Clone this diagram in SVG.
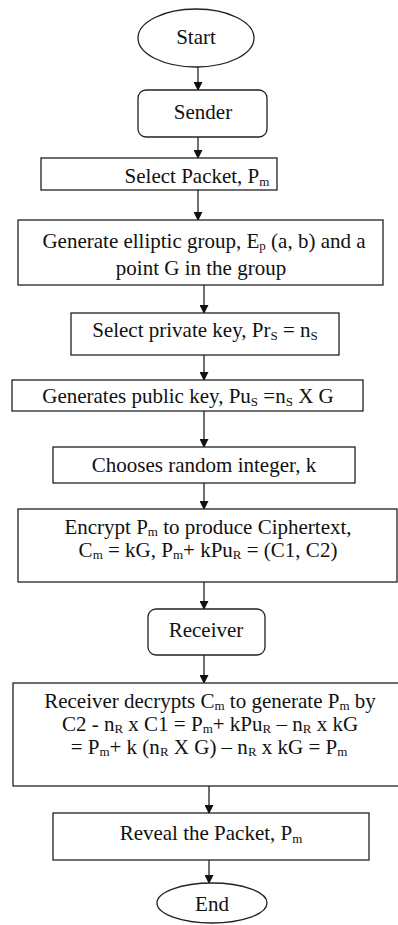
<svg xmlns="http://www.w3.org/2000/svg" width="398" height="925" viewBox="0 0 398 925">
<style>
.b{fill:#fff;stroke:#222;stroke-width:1.3}
.t{font-family:"Liberation Serif","Times New Roman",serif;font-size:21px;fill:#111;text-anchor:middle}
.s{font-size:13px}
.c{stroke:#222;stroke-width:1.3;fill:none;marker-end:url(#ah)}
</style>
<defs>
<marker id="ah" markerWidth="9" markerHeight="9" refX="8" refY="4.5" orient="auto" markerUnits="userSpaceOnUse">
<path d="M0,0 L9,4.5 L0,9 Z" fill="#111"/>
</marker>
</defs>
<rect width="398" height="925" fill="#fff"/>
<g id="connectors">
<line class="c" x1="198" y1="67" x2="198" y2="90"/>
<line class="c" x1="198" y1="137" x2="198" y2="158"/>
<line class="c" x1="198" y1="190" x2="198" y2="220"/>
<line class="c" x1="204" y1="285" x2="204" y2="313"/>
<line class="c" x1="204" y1="355" x2="204" y2="380"/>
<line class="c" x1="204" y1="411" x2="204" y2="447"/>
<line class="c" x1="204" y1="483" x2="204" y2="509"/>
<line class="c" x1="204" y1="582" x2="204" y2="609"/>
<line class="c" x1="204" y1="655" x2="204" y2="683"/>
<line class="c" x1="209" y1="786" x2="209" y2="813"/>
<line class="c" x1="209" y1="860" x2="209" y2="883"/>
</g>
<g id="start">
<ellipse class="b" cx="196" cy="38" rx="58" ry="29"/>
<text class="t" x="196" y="44">Start</text>
</g>
<g id="sender">
<rect class="b" x="138" y="90" width="129" height="47" rx="8"/>
<text class="t" x="203" y="119">Sender</text>
</g>
<g id="select-packet">
<rect class="b" x="41" y="158" width="236" height="32"/>
<text class="t" x="197" y="183">Select Packet, P<tspan class="s" dy="3">m</tspan></text>
</g>
<g id="generate-group">
<rect class="b" x="18" y="220" width="365" height="65"/>
<text class="t" x="204" y="248">Generate elliptic group, E<tspan class="s" dy="2">p</tspan><tspan dy="-2"> (a, b) and a</tspan></text>
<text class="t" x="201" y="275">point G in the group</text>
</g>
<g id="private-key">
<rect class="b" x="71" y="313" width="268" height="42"/>
<text class="t" x="205" y="337">Select private key, Pr<tspan class="s" dy="3">S</tspan><tspan dy="-3"> = n</tspan><tspan class="s" dy="3">S</tspan></text>
</g>
<g id="public-key">
<rect class="b" x="12" y="380" width="351" height="31"/>
<text class="t" x="188" y="403">Generates public key, Pu<tspan class="s" dy="3">S</tspan><tspan dy="-3"> =n</tspan><tspan class="s" dy="3">S</tspan><tspan dy="-3"> X G</tspan></text>
</g>
<g id="random-k">
<rect class="b" x="53" y="447" width="302" height="36"/>
<text class="t" x="204" y="472">Chooses random integer, k</text>
</g>
<g id="encrypt">
<rect class="b" x="18" y="509" width="379" height="73"/>
<text class="t" x="208" y="534">Encrypt P<tspan class="s" dy="2">m</tspan><tspan dy="-2"> to produce Ciphertext,</tspan></text>
<text class="t" x="208" y="557">C<tspan class="s" dy="2">m</tspan><tspan dy="-2"> = kG, P</tspan><tspan class="s" dy="2">m</tspan><tspan dy="-2">+ kPu</tspan><tspan class="s" dy="2">R</tspan><tspan dy="-2"> = (C1, C2)</tspan></text>
</g>
<g id="receiver">
<rect class="b" x="148" y="609" width="117" height="46" rx="8"/>
<text class="t" x="206" y="637">Receiver</text>
</g>
<g id="decrypt">
<rect class="b" x="13" y="683" width="390" height="103"/>
<text class="t" x="210" y="708">Receiver decrypts C<tspan class="s" dy="2">m</tspan><tspan dy="-2"> to generate P</tspan><tspan class="s" dy="2">m</tspan><tspan dy="-2"> by</tspan></text>
<text class="t" x="210" y="731">C2 - n<tspan class="s" dy="2">R</tspan><tspan dy="-2"> x C1 = P</tspan><tspan class="s" dy="2">m</tspan><tspan dy="-2">+ kPu</tspan><tspan class="s" dy="2">R</tspan><tspan dy="-2"> – n</tspan><tspan class="s" dy="2">R</tspan><tspan dy="-2"> x kG</tspan></text>
<text class="t" x="209" y="754">= P<tspan class="s" dy="2">m</tspan><tspan dy="-2">+ k (n</tspan><tspan class="s" dy="2">R</tspan><tspan dy="-2"> X G) – n</tspan><tspan class="s" dy="2">R</tspan><tspan dy="-2"> x kG = P</tspan><tspan class="s" dy="2">m</tspan></text>
</g>
<g id="reveal">
<rect class="b" x="53" y="813" width="316" height="47"/>
<text class="t" x="211" y="840">Reveal the Packet, P<tspan class="s" dy="3">m</tspan></text>
</g>
<g id="end">
<ellipse class="b" cx="212" cy="903" rx="55" ry="20"/>
<text class="t" x="212" y="911">End</text>
</g>
</svg>
